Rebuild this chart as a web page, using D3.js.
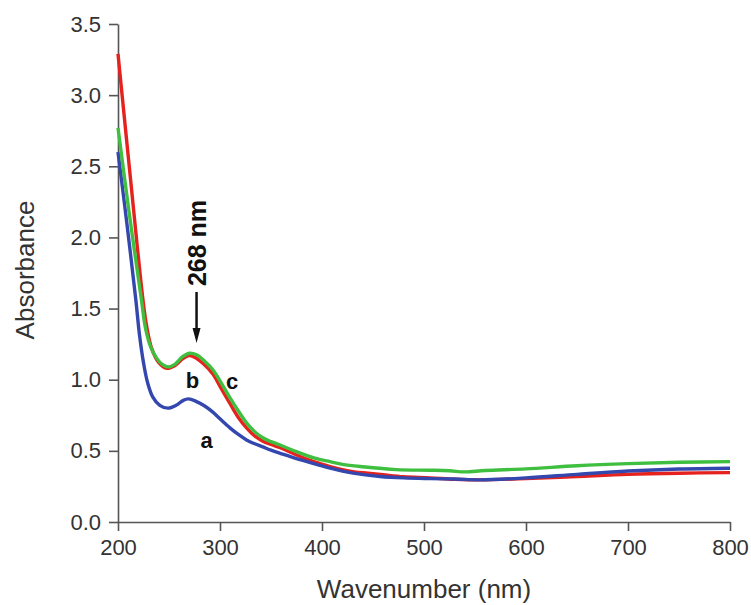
<!DOCTYPE html>
<html>
<head>
<meta charset="utf-8">
<script src="https://cdn.jsdelivr.net/npm/d3@7/dist/d3.min.js"></script>
<style>
  html, body { margin: 0; padding: 0; background: #fff; }
  svg { display: block; }
</style>
</head>
<body>
<svg id="chart" width="751" height="605"></svg>
<script>
// ---- data (wavelength nm, absorbance) ----
const xTicks = [200, 300, 400, 500, 600, 700, 800];
const yTicks = [0.0, 0.5, 1.0, 1.5, 2.0, 2.5, 3.0, 3.5];

const waveA = [200,209,217.5,221,225,229,234,241,249,257,264,269,276,285,293,301,310,318,326,334,342,350,359,375,392,408,420,432,457,480,506,530,555,600,650,700,750,800];
const absA  = [2.60,2.08,1.56,1.32,1.12,0.98,0.88,0.82,0.80,0.82,0.855,0.865,0.85,0.815,0.772,0.718,0.66,0.615,0.577,0.55,0.528,0.505,0.483,0.445,0.41,0.378,0.358,0.342,0.32,0.31,0.305,0.302,0.296,0.31,0.335,0.358,0.372,0.378];

const waveB = [200,212,224.5,228,233,240,248,256,264,270,276,284,293,301,310,318,326,334,342,350,359,375,392,408,420,432,445,460,480,506,530,555,600,650,700,750,800];
const absB  = [3.29,2.43,1.56,1.38,1.22,1.12,1.08,1.10,1.15,1.17,1.155,1.11,1.04,0.94,0.83,0.735,0.662,0.605,0.568,0.545,0.522,0.471,0.424,0.389,0.367,0.352,0.343,0.332,0.318,0.31,0.30,0.296,0.305,0.32,0.335,0.343,0.347];

const waveC = [200,211,223,227,232,238,243,249,256,263,270,277,285,293,301,310,318,326,334,342,350,359,375,392,408,420,440,473,506,525,540,560,600,650,700,750,800];
const absC  = [2.77,2.17,1.56,1.36,1.23,1.15,1.11,1.09,1.11,1.16,1.186,1.175,1.13,1.07,0.98,0.87,0.78,0.697,0.635,0.592,0.565,0.541,0.494,0.45,0.424,0.405,0.388,0.368,0.364,0.36,0.352,0.362,0.373,0.395,0.41,0.42,0.424];

const seriesNames = ["b", "a", "c"];
const seriesColors = {a: "#3447ae", b: "#e5221d", c: "#3fbf3f"};
const seriesData = {
  a: waveA.map((w, i) => [w, absA[i]]),
  b: waveB.map((w, i) => [w, absB[i]]),
  c: waveC.map((w, i) => [w, absC[i]])
};

// ---- layout ----
const svg = d3.select("#chart");
const x = d3.scaleLinear().domain([200, 800]).range([118, 730]);
const y = d3.scaleLinear().domain([0, 3.5]).range([522, 24]);

const axisColor = "#555";
const textColor = "#333";
const font = "'Liberation Sans', Arial, sans-serif";

// minor ticks
const xMinor = d3.range(250, 800, 100);
const yMinor = d3.range(0.25, 3.5, 0.5);

const gx = svg.append("g").attr("transform", "translate(0,522)");
gx.call(d3.axisBottom(x).tickValues(xMinor).tickSize(5).tickFormat(""));
gx.call(d3.axisBottom(x).tickValues(xTicks).tickSize(9).tickSizeOuter(0).tickPadding(8).tickFormat(d3.format("d")));
gx.selectAll("path, line").attr("stroke", axisColor).attr("stroke-width", 1.6);
gx.selectAll("text").attr("fill", textColor).style("font-family", font).style("font-size", "22px");

const gy = svg.append("g").attr("transform", "translate(118,0)");
gy.call(d3.axisLeft(y).tickValues(yMinor).tickSize(5).tickFormat(""));
gy.call(d3.axisLeft(y).tickValues(yTicks).tickSize(9).tickSizeOuter(0).tickPadding(8).tickFormat(d3.format(".1f")));
gy.selectAll("path, line").attr("stroke", axisColor).attr("stroke-width", 1.6);
gy.selectAll("text").attr("fill", textColor).style("font-family", font).style("font-size", "22px");

// lines
const line = d3.line().x(d => x(d[0])).y(d => y(d[1])).curve(d3.curveCatmullRom.alpha(0.5));
seriesNames.forEach(k => {
  svg.append("path")
    .datum(seriesData[k])
    .attr("fill", "none")
    .attr("stroke", seriesColors[k])
    .attr("stroke-width", 3.4)
    .attr("stroke-linejoin", "round")
    .attr("d", line);
});

// axis titles
svg.append("text")
  .attr("x", 424).attr("y", 598)
  .attr("text-anchor", "middle")
  .attr("fill", textColor)
  .style("font-family", font).style("font-size", "26px")
  .text("Wavenumber (nm)");

svg.append("text")
  .attr("transform", "translate(34,270) rotate(-90)")
  .attr("text-anchor", "middle")
  .attr("fill", textColor)
  .style("font-family", font).style("font-size", "26px")
  .text("Absorbance");

// annotation: 268 nm with arrow
const peakX = x(277);
svg.append("text")
  .attr("transform", `translate(${peakX + 9},243) rotate(-90)`)
  .attr("text-anchor", "middle")
  .attr("fill", "#111")
  .style("font-family", font).style("font-size", "25px").style("font-weight", "bold")
  .text("268 nm");

svg.append("line")
  .attr("x1", peakX).attr("x2", peakX)
  .attr("y1", 292).attr("y2", 332)
  .attr("stroke", "#111").attr("stroke-width", 2.5);
svg.append("path")
  .attr("d", `M${peakX - 4},328 L${peakX + 4},328 L${peakX},343 Z`)
  .attr("fill", "#111");

// curve labels
const labels = [
  {t: "b", w: 273, v: 0.945},
  {t: "c", w: 312, v: 0.935},
  {t: "a", w: 287, v: 0.52}
];
svg.selectAll(".lbl").data(labels).enter().append("text")
  .attr("class", "lbl")
  .attr("x", d => x(d.w)).attr("y", d => y(d.v))
  .attr("text-anchor", "middle")
  .attr("fill", "#111")
  .style("font-family", font).style("font-size", "22px").style("font-weight", "bold")
  .text(d => d.t);
</script>
</body>
</html>
